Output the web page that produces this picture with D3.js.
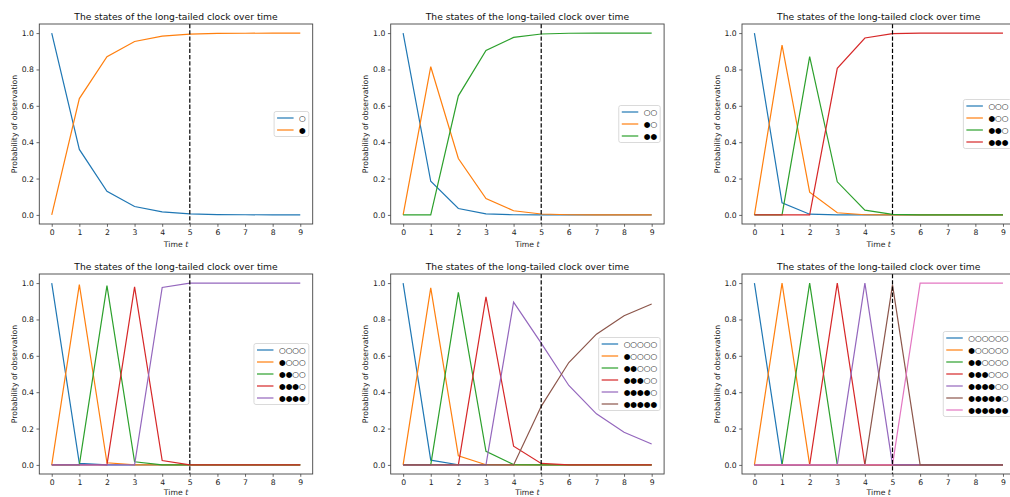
<!DOCTYPE html>
<html>
<head>
<meta charset="utf-8">
<script src="https://cdn.jsdelivr.net/npm/d3@7"></script>
<style>
  body { margin: 0; background: #fff; }
  text { font-family: "DejaVu Sans", sans-serif; }
</style>
</head>
<body>
<div id="chart"></div>
<script>
// time steps and ticks
var timeSteps = [0, 1, 2, 3, 4, 5, 6, 7, 8, 9];
var yTicks = [0, 0.2, 0.4, 0.6, 0.8, 1.0];
var cutoffTime = 5;
var titleText = "The states of the long-tailed clock over time";

// panel 1: 2 states
var states1 = ["○", "●"];
var probs1 = [
  [1.0, 0.36, 0.13, 0.046, 0.017, 0.006, 0.002, 0.001, 0.0003, 0.0001],
  [0.0, 0.64, 0.87, 0.954, 0.983, 0.994, 0.998, 0.999, 0.9997, 0.9999]
];
// panel 2: 3 states
var states2 = ["○○", "●○", "●●"];
var probs2 = [
  [1.0, 0.185, 0.035, 0.006, 0.001, 0.0, 0.0, 0.0, 0.0, 0.0],
  [0.0, 0.815, 0.31, 0.09, 0.023, 0.005, 0.001, 0.0, 0.0, 0.0],
  [0.0, 0.0, 0.655, 0.904, 0.976, 0.995, 0.999, 1.0, 1.0, 1.0]
];
// panel 3: 4 states
var states3 = ["○○○", "●○○", "●●○", "●●●"];
var probs3 = [
  [1.0, 0.066, 0.004, 0.0, 0.0, 0.0, 0.0, 0.0, 0.0, 0.0],
  [0.0, 0.934, 0.125, 0.012, 0.001, 0.0, 0.0, 0.0, 0.0, 0.0],
  [0.0, 0.0, 0.871, 0.182, 0.026, 0.003, 0.0, 0.0, 0.0, 0.0],
  [0.0, 0.0, 0.0, 0.806, 0.973, 0.997, 1.0, 1.0, 1.0, 1.0]
];
// panel 4: 5 states
var states4 = ["○○○○", "●○○○", "●●○○", "●●●○", "●●●●"];
var probs4 = [
  [1.0, 0.008, 0.0, 0.0, 0.0, 0.0, 0.0, 0.0, 0.0, 0.0],
  [0.0, 0.992, 0.012, 0.0, 0.0, 0.0, 0.0, 0.0, 0.0, 0.0],
  [0.0, 0.0, 0.986, 0.017, 0.0, 0.0, 0.0, 0.0, 0.0, 0.0],
  [0.0, 0.0, 0.0, 0.979, 0.024, 0.0, 0.0, 0.0, 0.0, 0.0],
  [0.0, 0.0, 0.0, 0.0, 0.976, 1.0, 1.0, 1.0, 1.0, 1.0]
];
// panel 5: 6 states
var states5 = ["○○○○○", "●○○○○", "●●○○○", "●●●○○", "●●●●○", "●●●●●"];
var probs5 = [
  [1.0, 0.026, 0.001, 0.0, 0.0, 0.0, 0.0, 0.0, 0.0, 0.0],
  [0.0, 0.974, 0.05, 0.001, 0.0, 0.0, 0.0, 0.0, 0.0, 0.0],
  [0.0, 0.0, 0.949, 0.075, 0.002, 0.0, 0.0, 0.0, 0.0, 0.0],
  [0.0, 0.0, 0.0, 0.924, 0.103, 0.008, 0.0, 0.0, 0.0, 0.0],
  [0.0, 0.0, 0.0, 0.0, 0.895, 0.67, 0.437, 0.281, 0.18, 0.115],
  [0.0, 0.0, 0.0, 0.0, 0.0, 0.322, 0.563, 0.719, 0.82, 0.885]
];
// panel 6: 7 states
var states6 = ["○○○○○○", "●○○○○○", "●●○○○○", "●●●○○○", "●●●●○○", "●●●●●○", "●●●●●●"];
var probs6 = [
  [1.0, 0.0, 0.0, 0.0, 0.0, 0.0, 0.0, 0.0, 0.0, 0.0],
  [0.0, 1.0, 0.0, 0.0, 0.0, 0.0, 0.0, 0.0, 0.0, 0.0],
  [0.0, 0.0, 1.0, 0.0, 0.0, 0.0, 0.0, 0.0, 0.0, 0.0],
  [0.0, 0.0, 0.0, 1.0, 0.0, 0.0, 0.0, 0.0, 0.0, 0.0],
  [0.0, 0.0, 0.0, 0.0, 1.0, 0.0, 0.0, 0.0, 0.0, 0.0],
  [0.0, 0.0, 0.0, 0.0, 0.0, 0.99, 0.0, 0.0, 0.0, 0.0],
  [0.0, 0.0, 0.0, 0.0, 0.0, 0.0, 1.0, 1.0, 1.0, 1.0]
];

var colors = ["#1f77b4", "#ff7f0e", "#2ca02c", "#d62728", "#9467bd", "#8c564b", "#e377c2"];

var panels = [
  {states: states1, probs: probs1, col: 0, row: 0},
  {states: states2, probs: probs2, col: 1, row: 0},
  {states: states3, probs: probs3, col: 2, row: 0},
  {states: states4, probs: probs4, col: 0, row: 1},
  {states: states5, probs: probs5, col: 1, row: 1},
  {states: states6, probs: probs6, col: 2, row: 1}
];

var w = 1010, h = 497;
var colLeft = [39.3, 390.7, 742];
var rowTop = [24, 274];
var pw = 273.4, ph = 200;

var svg = d3.select("#chart").append("svg")
  .attr("width", w).attr("height", h);
svg.append("rect").attr("width", w).attr("height", h).attr("fill", "#fff");

panels.forEach(function(p) {
  var left = colLeft[p.col], top = rowTop[p.row];
  var x = d3.scaleLinear().domain([-0.45, 9.45]).range([left, left + pw]);
  var y = d3.scaleLinear().domain([-0.05, 1.05]).range([top + ph, top]);
  var g = svg.append("g");

  // series lines
  var line = d3.line()
    .x(function(d, i) { return x(timeSteps[i]); })
    .y(function(d) { return y(d); });
  p.probs.forEach(function(s, k) {
    g.append("path")
      .attr("d", line(s))
      .attr("fill", "none")
      .attr("stroke", colors[k])
      .attr("stroke-width", 1.2);
  });

  // dashed line at t = 5
  g.append("line")
    .attr("x1", x(cutoffTime)).attr("x2", x(cutoffTime))
    .attr("y1", top).attr("y2", top + ph)
    .attr("stroke", "#000")
    .attr("stroke-width", 1.2)
    .attr("stroke-dasharray", "4.3,1.9");

  // frame
  g.append("rect")
    .attr("x", left).attr("y", top).attr("width", pw).attr("height", ph)
    .attr("fill", "none").attr("stroke", "#444").attr("stroke-width", 0.9);

  // axes
  var xAxis = g.append("g")
    .attr("transform", "translate(0," + (top + ph) + ")")
    .call(d3.axisBottom(x).tickValues(timeSteps).tickFormat(d3.format("d"))
      .tickSize(2.8).tickPadding(2.6));
  var yAxis = g.append("g")
    .attr("transform", "translate(" + left + ",0)")
    .call(d3.axisLeft(y).tickValues(yTicks).tickFormat(d3.format(".1f"))
      .tickSize(2.8).tickPadding(2.6));
  [xAxis, yAxis].forEach(function(a) {
    a.select(".domain").remove();
    a.attr("font-family", "DejaVu Sans").attr("font-size", 7.7);
    a.selectAll("line").attr("stroke", "#444").attr("stroke-width", 0.8);
    a.selectAll("text").attr("fill", "#222");
  });

  // title and axis labels
  g.append("text")
    .attr("x", left + pw / 2).attr("y", top - 4.2)
    .attr("text-anchor", "middle").attr("font-size", 9.2).attr("fill", "#111")
    .text(titleText);
  var xl = g.append("text")
    .attr("x", left + pw / 2).attr("y", Math.min(top + ph + 23, h - 2.4))
    .attr("text-anchor", "middle").attr("font-size", 7.7).attr("fill", "#222");
  xl.append("tspan").text("Time ");
  xl.append("tspan").attr("font-style", "italic").text("t");
  g.append("text")
    .attr("transform", "translate(" + (left - 22.5) + "," + (top + ph / 2) + ") rotate(-90)")
    .attr("text-anchor", "middle").attr("font-size", 7.7).attr("fill", "#222")
    .text("Probability of observation");

  // legend, center right
  var n = p.states.length;
  var lg = g.append("g");
  var box = lg.append("rect");
  var texts = [];
  var maxW = 0;
  p.states.forEach(function(s, k) {
    var t = lg.append("text")
      .attr("font-size", 7.7).attr("fill", "#000")
      .attr("dy", "0.35em")
      .text(s);
    texts.push(t);
    maxW = Math.max(maxW, t.node().getComputedTextLength());
  });
  var lh = n * 12 + 1;
  var lw = 3 + 16.5 + 5.5 + maxW + 3;
  var lx = left + pw - 3.9 - lw;
  var ly = top + ph / 2 - lh / 2;
  box.attr("x", lx).attr("y", ly).attr("width", lw).attr("height", lh)
    .attr("rx", 2).attr("fill", "#fff").attr("fill-opacity", 0.8)
    .attr("stroke", "#d0d0d0").attr("stroke-width", 0.8);
  p.states.forEach(function(s, k) {
    var cy = ly + 6.5 + k * 12;
    lg.append("line")
      .attr("x1", lx + 3).attr("x2", lx + 19.5)
      .attr("y1", cy).attr("y2", cy)
      .attr("stroke", colors[k]).attr("stroke-width", 1.2);
    texts[k].attr("x", lx + 25).attr("y", cy);
  });
});
</script>
</body>
</html>
